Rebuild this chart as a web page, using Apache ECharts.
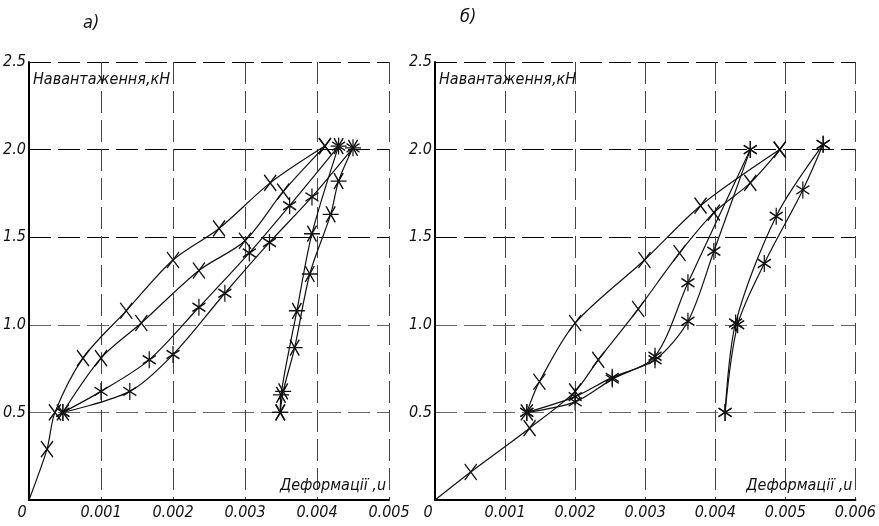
<!DOCTYPE html>
<html><head><meta charset="utf-8">
<script src="https://cdn.jsdelivr.net/npm/echarts@6/dist/echarts.min.js"></script>
<style>html,body{margin:0;padding:0;background:#fff}#c{width:879px;height:526px}</style>
</head><body><div id="c"></div>
<script>
// ---- tick labels ----
const yTicks = [0, 0.5, 1.0, 1.5, 2.0, 2.5];
const xTicksA = [0, 0.001, 0.002, 0.003, 0.004, 0.005];
const xTicksB = [0, 0.001, 0.002, 0.003, 0.004, 0.005, 0.006];
const titleA = 'а)', titleB = 'б)';
const yName = 'Навантаження,кН';
const xName = 'Деформації ,u';

// ---- panel а) : deformation (x) and load, kN (y) ----
const aL1x = [0, 0.00025, 0.00036, 0.00075, 0.00135, 0.0020, 0.00264, 0.00335, 0.00411];
const aL1y = [0, 0.29, 0.50, 0.81, 1.08, 1.37, 1.55, 1.81, 2.02];
const aL2x = [0.00047, 0.0010, 0.00156, 0.00236, 0.0030, 0.00353, 0.00411];
const aL2y = [0.50, 0.81, 1.01, 1.31, 1.48, 1.76, 2.02];
const aL3x = [0.00047, 0.0010, 0.00167, 0.00236, 0.00306, 0.00362, 0.0043];
const aL3y = [0.50, 0.62, 0.80, 1.10, 1.41, 1.68, 2.02];
const aL4x = [0.00047, 0.0014, 0.0020, 0.00272, 0.00334, 0.00393, 0.0045];
const aL4y = [0.50, 0.62, 0.83, 1.18, 1.47, 1.73, 2.01];
const aU1x = [0.0043, 0.00393, 0.00372, 0.0035, 0.00349];
const aU1y = [2.02, 1.52, 1.08, 0.60, 0.50];
const aU2x = [0.0045, 0.0043, 0.00419, 0.0039, 0.00369, 0.00353, 0.00349];
const aU2y = [2.01, 1.82, 1.63, 1.29, 0.87, 0.62, 0.50];

// ---- panel б) ----
const bL1x = [0, 0.00051, 0.00135, 0.0020, 0.00233, 0.0029, 0.00349, 0.00398, 0.0045, 0.00492];
const bL1y = [0, 0.16, 0.41, 0.62, 0.80, 1.09, 1.41, 1.64, 1.81, 2.0];
const bU1x = [0.00492, 0.00379, 0.00299, 0.0020, 0.00149, 0.00131];
const bU1y = [2.0, 1.68, 1.37, 1.01, 0.675, 0.50];
const bL2x = [0.00131, 0.0020, 0.00253, 0.00314, 0.00361, 0.0045];
const bL2y = [0.50, 0.56, 0.69, 0.82, 1.24, 2.0];
const bL3x = [0.00131, 0.0020, 0.00253, 0.00314, 0.00361, 0.00398, 0.0045];
const bL3y = [0.50, 0.59, 0.70, 0.80, 1.02, 1.42, 2.0];
const bU2x = [0.00554, 0.00487, 0.00429, 0.00414];
const bU2y = [2.03, 1.62, 1.01, 0.50];
const bL4x = [0.00414, 0.00432, 0.0047, 0.00525, 0.00554];
const bL4y = [0.50, 1.00, 1.35, 1.77, 2.03];

const FONT = "'DejaVu Sans Condensed','DejaVu Sans',sans-serif";
const SYM_X = 'path://M0,0L9,13M9,0L0,13';
const SYM_AST = 'path://M5,0L5,14M0,3.5L10,10.5M0,10.5L10,3.5';
const SYM_ASTH = 'path://M0,7L14,7M3,0L11,14M3,14L11,0';

function pts(xs, ys) { return xs.map((x, i) => x === 0 ? {value:[x, ys[i]], symbol:'none'} : [x, ys[i]]); }
function ser(xs, ys, sym, size, idx) {
  return {
    type: 'line', xAxisIndex: idx, yAxisIndex: idx, data: pts(xs, ys),
    smooth: 0.3, symbol: sym, symbolSize: size, showSymbol: true,
    lineStyle: {color:'#111', width:1.2},
    itemStyle: {color:'rgba(0,0,0,0)', borderColor:'#111', borderWidth:1.4},
    emphasis: {disabled:true}, silent: true, z: 3
  };
}
function xAx(idx, max) {
  return {
    type:'value', gridIndex: idx, min:0, max:max, interval:0.001,
    name: xName, nameLocation:'end', nameGap:-3,
    nameTextStyle:{fontFamily:FONT, fontStyle:'italic', fontSize:16, color:'#111', align:'right', verticalAlign:'bottom', padding:[0,0,6,0]},
    axisLine:{show:true, lineStyle:{color:'#000', width:2}},
    axisTick:{show:false},
    axisLabel:{fontFamily:FONT, fontStyle:'italic', fontSize:16, color:'#111', margin:5,
      formatter: v => v === 0 ? '{z|0}' : v.toFixed(3),
      rich:{z:{fontFamily:FONT, fontStyle:'italic', fontSize:16, color:'#111', padding:[0,14,0,0]}}},
    splitLine:{show:true, lineStyle:{color:'#444', width:1, type:[22,7]}}
  };
}
function yAx(idx) {
  return {
    type:'value', gridIndex: idx, min:0, max:2.5, interval:0.5,
    name: yName, nameLocation:'end', nameGap:-18,
    nameTextStyle:{fontFamily:FONT, fontStyle:'italic', fontSize:16, color:'#111', align:'left', verticalAlign:'middle', padding:[0,0,0,4]},
    axisLine:{show:true, lineStyle:{color:'#000', width:2}},
    axisTick:{show:false},
    axisLabel:{fontFamily:FONT, fontStyle:'italic', fontSize:16, color:'#111', margin:3,
      formatter: v => v === 0 ? '' : v.toFixed(1)},
    splitLine:{show:true, lineStyle:{color:['#000','#666','#666','#000','#000','#000'], width:1, type:[22,7]}}
  };
}

const chart = echarts.init(document.getElementById('c'), null, {renderer:'canvas'});
chart.setOption({
  animation:false,
  backgroundColor:'#fff',
  title:[
    {text:titleA, left:78, top:9, textStyle:{fontFamily:FONT, fontStyle:'italic', fontWeight:'normal', fontSize:18, color:'#111'}},
    {text:titleB, left:455, top:3, textStyle:{fontFamily:FONT, fontStyle:'italic', fontWeight:'normal', fontSize:18, color:'#111'}}
  ],
  grid:[
    {left:29, top:62, width:360, height:438},
    {left:435, top:62, width:435, height:438}
  ],
  xAxis:[xAx(0, 0.005), xAx(1, 0.006)],
  yAxis:[yAx(0), yAx(1)],
  series:[
    ser(aL1x, aL1y, SYM_X, [12,16], 0),
    ser(aL2x, aL2y, SYM_X, [12,16], 0),
    ser(aL3x, aL3y, SYM_AST, [13,17], 0),
    ser(aL4x, aL4y, SYM_AST, [13,17], 0),
    ser(aU1x, aU1y, SYM_ASTH, [16,16], 0),
    ser(aU2x, aU2y, SYM_ASTH, [16,16], 0),
    ser(bL1x, bL1y, SYM_X, [12,16], 1),
    ser(bU1x, bU1y, SYM_X, [12,16], 1),
    ser(bL2x, bL2y, SYM_AST, [13,17], 1),
    ser(bL3x, bL3y, SYM_AST, [13,17], 1),
    ser(bU2x, bU2y, SYM_AST, [13,17], 1),
    ser(bL4x, bL4y, SYM_AST, [13,17], 1)
  ]
});
</script></body></html>
